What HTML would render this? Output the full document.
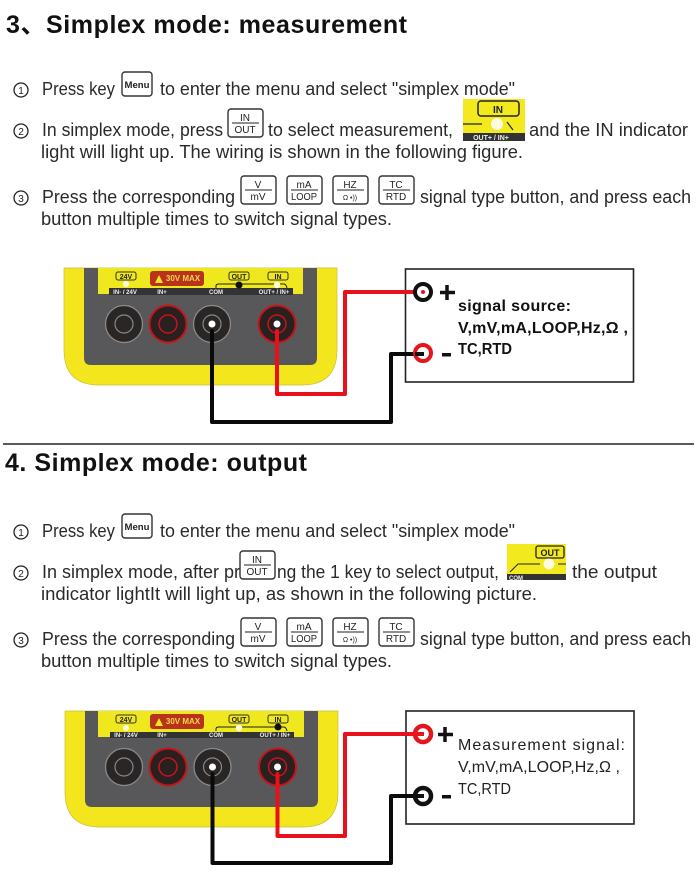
<!DOCTYPE html>
<html><head><meta charset="utf-8"><style>
html,body{margin:0;padding:0;background:#fff}
svg{display:block;filter:blur(.35px)}
text{font-family:"Liberation Sans","Noto Sans CJK SC",sans-serif;fill:#222}
.t{font-size:18px;fill:#2a2a2a}
.h{font-size:25px;font-weight:bold;fill:#111}
.c{font-size:13px;text-anchor:middle;fill:#222}
.k{font-size:10px;text-anchor:middle;fill:#222}
.d{font-size:6px;font-weight:bold;text-anchor:middle;fill:#eee}
.y{font-size:7px;font-weight:bold;text-anchor:middle;fill:#222}
.s{font-size:16px;fill:#222}
.b{font-weight:bold;fill:#111}
.key{fill:#fff;stroke:#333;stroke-width:1.4}
.w{fill:none;stroke-width:4;stroke-linejoin:round;stroke-linecap:round}
.n{fill:none;stroke:#222;stroke-width:1.3}
</style></head><body>
<svg width="698" height="882" viewBox="0 0 698 882" xmlns="http://www.w3.org/2000/svg">
<rect width="698" height="882" fill="#fff"/>

<text class="h" x="6" y="33" textLength="401" lengthAdjust="spacing">3、Simplex mode: measurement</text>

<!-- section 3 text -->
<circle class="n" cx="21" cy="90" r="7"/><text class="c" x="21" y="94" style="font-size:10px">1</text>
<text class="t" x="42" y="95" textLength="73" lengthAdjust="spacingAndGlyphs">Press key</text>
<rect class="key" x="122" y="72" width="30" height="24" rx="3"/><text class="k" x="137" y="88" style="font-size:9px;font-weight:bold" textLength="25" lengthAdjust="spacingAndGlyphs">Menu</text>
<text class="t" x="160" y="95" textLength="355" lengthAdjust="spacingAndGlyphs">to enter the menu and select "simplex mode"</text>

<circle class="n" cx="21" cy="131" r="7"/><text class="c" x="21" y="135" style="font-size:10px">2</text>
<text class="t" x="42" y="136" textLength="181" lengthAdjust="spacingAndGlyphs">In simplex mode, press</text>
<rect class="key" x="228" y="109" width="35" height="28" rx="3"/><text class="k" x="245" y="121">IN</text><line x1="232" y1="123" x2="259" y2="123" stroke="#222"/><text class="k" x="245" y="133">OUT</text>
<text class="t" x="268" y="136" textLength="185" lengthAdjust="spacingAndGlyphs">to select measurement,</text>
<rect x="463" y="99" width="62" height="42" fill="#f2ea1e"/>
<rect x="478" y="101" width="41" height="15" rx="3" fill="none" stroke="#222" stroke-width="1.5"/><text class="y" x="498" y="113" style="font-size:10px">IN</text>
<line x1="463" y1="124" x2="482" y2="124" stroke="#222" stroke-width="1.2"/><circle cx="497" cy="124" r="6" fill="#fffbe0"/><line x1="507" y1="122" x2="513" y2="130" stroke="#222" stroke-width="1.2"/>
<rect x="463" y="133" width="62" height="8" fill="#333"/><text class="d" x="491" y="140" style="font-size:7px">OUT+ / IN+</text>
<text class="t" x="529" y="136" textLength="159" lengthAdjust="spacingAndGlyphs">and the IN indicator</text>
<text class="t" x="41" y="158" textLength="482" lengthAdjust="spacingAndGlyphs">light will light up. The wiring is shown in the following figure.</text>

<circle class="n" cx="21" cy="198" r="7"/><text class="c" x="21" y="202" style="font-size:10px">3</text>
<text class="t" x="42" y="203" textLength="193" lengthAdjust="spacingAndGlyphs">Press the corresponding</text>
<rect class="key" x="241" y="176" width="35" height="28" rx="3"/><text class="k" x="258" y="188">V</text><line x1="245" y1="190" x2="272" y2="190" stroke="#222"/><text class="k" x="258" y="200">mV</text>
<rect class="key" x="287" y="176" width="35" height="28" rx="3"/><text class="k" x="304" y="188">mA</text><line x1="291" y1="190" x2="318" y2="190" stroke="#222"/><text class="k" x="304" y="200" textLength="26" lengthAdjust="spacingAndGlyphs">LOOP</text>
<rect class="key" x="333" y="176" width="35" height="28" rx="3"/><text class="k" x="350" y="188">HZ</text><line x1="337" y1="190" x2="364" y2="190" stroke="#222"/><text class="k" x="350" y="200" style="font-size:7px">Ω •))</text>
<rect class="key" x="379" y="176" width="35" height="28" rx="3"/><text class="k" x="396" y="188">TC</text><line x1="383" y1="190" x2="410" y2="190" stroke="#222"/><text class="k" x="396" y="200">RTD</text>
<text class="t" x="420" y="203" textLength="271" lengthAdjust="spacingAndGlyphs">signal type button, and press each</text>
<text class="t" x="41" y="225" textLength="351" lengthAdjust="spacingAndGlyphs">button multiple times to switch signal types.</text>

<!-- device 1 -->
<path d="M64 268H337V350Q337 385 302 385H99Q64 385 64 350Z" fill="#f4e61c" stroke="#c9bd3a" stroke-width=".7"/>
<path d="M84 268H317V358Q317 365 310 365H91Q84 365 84 358Z" fill="#58585a"/>
<rect x="98" y="268" width="205" height="26" fill="#efe81f"/>
<rect x="109" y="288" width="184" height="7" fill="#333"/>
<text class="d" x="125" y="294">IN- / 24V</text><text class="d" x="162" y="294">IN+</text><text class="d" x="216" y="294">COM</text><text class="d" x="274" y="294">OUT+ / IN+</text>
<rect x="116" y="272" width="20" height="8" rx="2" fill="none" stroke="#333"/><text class="y" x="126" y="279">24V</text>
<circle cx="126" cy="284" r="3" fill="#fffbe0"/>
<rect x="150" y="271" width="54" height="15" rx="3" fill="#b8321c"/><path d="M155 283L159 275L163 283Z" fill="#f4e61c"/><text class="d" x="183" y="281" style="font-size:8px;fill:#f4d84a">30V MAX</text>
<rect x="229" y="272" width="20" height="8" rx="2" fill="none" stroke="#333"/><text class="y" x="239" y="279">OUT</text>
<rect x="268" y="272" width="20" height="8" rx="2" fill="none" stroke="#333"/><text class="y" x="278" y="279">IN</text>
<path d="M216 288V286Q216 284 219 284H284Q286 284 287 288" fill="none" stroke="#222" stroke-width="1"/>
<circle cx="239" cy="285" r="3.5" fill="#111"/><circle cx="277" cy="285" r="3.2" fill="#fffbe0"/>
<g fill="#2a2626" stroke="#8a8a8a" stroke-width="1.3"><circle cx="124" cy="324" r="18.5"/><circle cx="212" cy="324" r="18.5"/></g>
<g fill="#2a2020" stroke="#c4151c" stroke-width="2"><circle cx="168" cy="324" r="18.5"/><circle cx="277" cy="324" r="18.5"/></g>
<g fill="none" stroke="#888" stroke-width="1.2"><circle cx="124" cy="324" r="9"/><circle cx="212" cy="324" r="9"/></g>
<g fill="none" stroke="#c4151c" stroke-width="1.5"><circle cx="168" cy="324" r="9"/><circle cx="277" cy="324" r="9"/></g>
<circle cx="212" cy="324" r="3.5" fill="#fff"/><circle cx="277" cy="324" r="3.5" fill="#fff"/>

<rect x="405.500" y="269" width="228" height="113" fill="#fff" stroke="#222" stroke-width="1.6"/>
<path class="w" d="M277 331V394H345V292H420" stroke="#e8101a"/>
<path class="w" d="M212 331V422H391V354H420" stroke="#0a0a0a"/>
<circle cx="423" cy="292" r="8" fill="#fff" stroke="#111" stroke-width="4"/><circle cx="423" cy="292" r="2" fill="#e8101a"/>
<circle cx="423" cy="353" r="8" fill="#fff" stroke="#e4151c" stroke-width="4"/><rect x="415" y="352" width="9" height="4" fill="#111"/>
<path d="M447 285V300M440 292.500H455" stroke="#111" stroke-width="3.500"/>
<rect x="442" y="353" width="9" height="3.500" fill="#111"/>
<text class="s b" x="458" y="311" textLength="113" lengthAdjust="spacing">signal source:</text>
<text class="s b" x="458" y="333" textLength="170" lengthAdjust="spacing">V,mV,mA,LOOP,Hz,Ω ,</text>
<text class="s b" x="458" y="354" textLength="54" lengthAdjust="spacingAndGlyphs">TC,RTD</text>

<line x1="3" y1="444" x2="694" y2="444" stroke="#222" stroke-width="1.5"/>

<text class="h" x="5" y="471" textLength="302" lengthAdjust="spacing">4. Simplex mode: output</text>

<!-- section 4 text -->
<circle class="n" cx="21" cy="532" r="7"/><text class="c" x="21" y="536" style="font-size:10px">1</text>
<text class="t" x="42" y="537" textLength="73" lengthAdjust="spacingAndGlyphs">Press key</text>
<rect class="key" x="122" y="514" width="30" height="24" rx="3"/><text class="k" x="137" y="530" style="font-size:9px;font-weight:bold" textLength="25" lengthAdjust="spacingAndGlyphs">Menu</text>
<text class="t" x="160" y="537" textLength="355" lengthAdjust="spacingAndGlyphs">to enter the menu and select "simplex mode"</text>

<circle class="n" cx="21" cy="573" r="7"/><text class="c" x="21" y="577" style="font-size:10px">2</text>
<text class="t" x="42" y="578" textLength="198" lengthAdjust="spacingAndGlyphs">In simplex mode, after pr</text>
<text class="t" x="277" y="578" textLength="222" lengthAdjust="spacingAndGlyphs">ng the 1 key to select output,</text>
<rect class="key" x="240" y="551" width="35" height="28" rx="3"/><text class="k" x="257" y="563">IN</text><line x1="244" y1="565" x2="271" y2="565" stroke="#222"/><text class="k" x="257" y="575">OUT</text>
<rect x="507" y="544" width="59" height="36" fill="#f2ea1e"/>
<rect x="536" y="546" width="28" height="12" rx="2" fill="none" stroke="#222" stroke-width="1.3"/><text class="y" x="550" y="556" style="font-size:9px">OUT</text>
<path d="M510 572L518 564H540M558 564H566" fill="none" stroke="#222" stroke-width="1"/><circle cx="549" cy="564" r="5.500" fill="#fffbe0"/>
<rect x="507" y="574" width="59" height="6" fill="#333"/><text class="d" x="516" y="580">COM</text>
<text class="t" x="572" y="578" textLength="85" lengthAdjust="spacingAndGlyphs">the output</text>
<text class="t" x="41" y="600" textLength="496" lengthAdjust="spacingAndGlyphs">indicator lightIt will light up, as shown in the following picture.</text>

<circle class="n" cx="21" cy="640" r="7"/><text class="c" x="21" y="644" style="font-size:10px">3</text>
<text class="t" x="42" y="645" textLength="193" lengthAdjust="spacingAndGlyphs">Press the corresponding</text>
<rect class="key" x="241" y="618" width="35" height="28" rx="3"/><text class="k" x="258" y="630">V</text><line x1="245" y1="632" x2="272" y2="632" stroke="#222"/><text class="k" x="258" y="642">mV</text>
<rect class="key" x="287" y="618" width="35" height="28" rx="3"/><text class="k" x="304" y="630">mA</text><line x1="291" y1="632" x2="318" y2="632" stroke="#222"/><text class="k" x="304" y="642" textLength="26" lengthAdjust="spacingAndGlyphs">LOOP</text>
<rect class="key" x="333" y="618" width="35" height="28" rx="3"/><text class="k" x="350" y="630">HZ</text><line x1="337" y1="632" x2="364" y2="632" stroke="#222"/><text class="k" x="350" y="642" style="font-size:7px">Ω •))</text>
<rect class="key" x="379" y="618" width="35" height="28" rx="3"/><text class="k" x="396" y="630">TC</text><line x1="383" y1="632" x2="410" y2="632" stroke="#222"/><text class="k" x="396" y="642">RTD</text>
<text class="t" x="420" y="645" textLength="271" lengthAdjust="spacingAndGlyphs">signal type button, and press each</text>
<text class="t" x="41" y="667" textLength="351" lengthAdjust="spacingAndGlyphs">button multiple times to switch signal types.</text>

<!-- device 2 -->
<path d="M65 711H338V792Q338 827 303 827H100Q65 827 65 792Z" fill="#f4e61c" stroke="#c9bd3a" stroke-width=".7"/>
<path d="M85 711H318V800Q318 807 311 807H92Q85 807 85 800Z" fill="#58585a"/>
<rect x="98" y="711" width="206" height="26" fill="#efe81f"/>
<rect x="110" y="732" width="184" height="6" fill="#333"/>
<text class="d" x="126" y="737">IN- / 24V</text><text class="d" x="162" y="737">IN+</text><text class="d" x="216" y="737">COM</text><text class="d" x="275" y="737">OUT+ / IN+</text>
<rect x="116" y="715" width="20" height="8" rx="2" fill="none" stroke="#333"/><text class="y" x="126" y="722">24V</text>
<circle cx="126" cy="728" r="3" fill="#fffbe0"/>
<rect x="150" y="714" width="54" height="15" rx="3" fill="#b8321c"/><path d="M155 726L159 718L163 726Z" fill="#f4e61c"/><text class="d" x="183" y="724" style="font-size:8px;fill:#f4d84a">30V MAX</text>
<rect x="229" y="715" width="20" height="8" rx="2" fill="none" stroke="#333"/><text class="y" x="239" y="722">OUT</text>
<rect x="268" y="715" width="20" height="8" rx="2" fill="none" stroke="#333"/><text class="y" x="278" y="722">IN</text>
<path d="M216 731V729Q216 727 219 727H284Q286 727 287 731" fill="none" stroke="#222" stroke-width="1"/>
<circle cx="239" cy="728" r="3.2" fill="#fffbe0"/><circle cx="278" cy="727" r="3.5" fill="#111"/>
<g fill="#2a2626" stroke="#8a8a8a" stroke-width="1.3"><circle cx="124" cy="767" r="18.5"/><circle cx="212.500" cy="767" r="18.5"/></g>
<g fill="#2a2020" stroke="#c4151c" stroke-width="2"><circle cx="168" cy="767" r="18.5"/><circle cx="277.500" cy="767" r="18.5"/></g>
<g fill="none" stroke="#888" stroke-width="1.2"><circle cx="124" cy="767" r="9"/><circle cx="212.500" cy="767" r="9"/></g>
<g fill="none" stroke="#c4151c" stroke-width="1.5"><circle cx="168" cy="767" r="9"/><circle cx="277.500" cy="767" r="9"/></g>
<circle cx="212.500" cy="767" r="3.5" fill="#fff"/><circle cx="277.500" cy="767" r="3.5" fill="#fff"/>

<rect x="406" y="711" width="228" height="113" fill="#fff" stroke="#222" stroke-width="1.6"/>
<path class="w" d="M277.500 774V836H345V734H420" stroke="#e8101a"/>
<path class="w" d="M212.500 774V863H391V796H420" stroke="#0a0a0a"/>
<circle cx="423" cy="734" r="8" fill="#fff" stroke="#e4151c" stroke-width="4.500"/><rect x="414" y="732" width="10" height="4" fill="#e4151c"/>
<circle cx="423" cy="796" r="8" fill="#fff" stroke="#111" stroke-width="4.500"/><rect x="414" y="794" width="10" height="4" fill="#111"/>
<path d="M445 727V742M438 734.500H453" stroke="#111" stroke-width="3.500"/>
<rect x="442" y="795" width="9" height="3.500" fill="#111"/>
<text class="s" x="458" y="750" textLength="167" lengthAdjust="spacing">Measurement signal:</text>
<text class="s" x="458" y="772" textLength="162" lengthAdjust="spacing">V,mV,mA,LOOP,Hz,Ω ,</text>
<text class="s" x="458" y="794" textLength="53" lengthAdjust="spacingAndGlyphs">TC,RTD</text>
</svg>
</body></html>
